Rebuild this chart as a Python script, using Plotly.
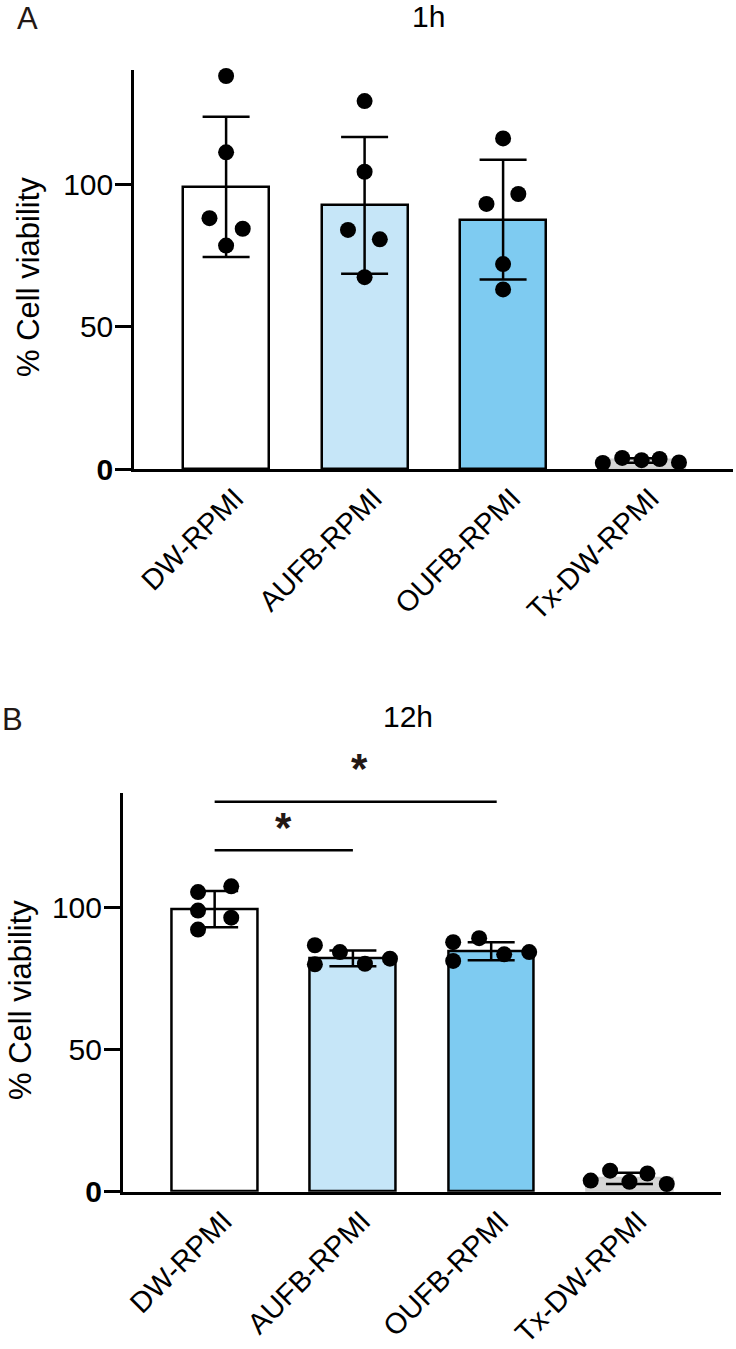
import plotly.graph_objects as go

# ---------------- data ----------------
categories = ["DW-RPMI", "AUFB-RPMI", "OUFB-RPMI", "Tx-DW-RPMI"]
bar_colors = ["#ffffff", "#c6e6f8", "#7ecbf1", "#d6d6d6"]
edge_colors = ["#000000", "#000000", "#000000", "#cfcfcf"]

mean_1h = [99.0, 92.5, 87.5, 3.0]
sd_1h = [24.6, 24.0, 21.0, 0.8]
points_1h = [
    [137.9, 111.1, 88.0, 84.3, 78.4],
    [129.1, 104.3, 83.9, 80.6, 67.3],
    [116.0, 96.5, 93.0, 71.9, 63.0],
    [2.1, 3.9, 3.1, 3.5, 2.3],
]
jitter_1h = [
    [0, 0, -0.12, 0.12, 0],
    [0, 0, -0.12, 0.11, 0],
    [0, 0.11, -0.12, 0, 0],
    [-0.28, -0.14, 0, 0.13, 0.27],
]

mean_12h = [99.3, 82.0, 84.5, 4.7]
sd_12h = [6.4, 2.8, 3.2, 2.0]
points_12h = [
    [105.3, 98.8, 92.1, 107.3, 96.3],
    [86.6, 79.9, 84.2, 80.1, 81.9],
    [87.7, 81.1, 89.1, 83.4, 84.2],
    [3.9, 7.4, 3.5, 6.4, 2.7],
]
jitter_12h = [
    [-0.12, -0.12, -0.12, 0.12, 0.12],
    [-0.275, -0.275, -0.094, 0.087, 0.268],
    [-0.275, -0.275, -0.087, 0.094, 0.275],
    [-0.28, -0.14, 0, 0.13, 0.27],
]

# significance comparisons (12h)
sig_from = [0, 0]
sig_to = [1, 2]
sig_level = [120, 137]
sig_text = ["*", "*"]

panel_titles = ["1h", "12h"]
panel_letters = ["A", "B"]
y_title = "% Cell viability"
y_ticks = [0, 50, 100]
y_ticktext = ["<b>0</b>", "50", "100"]

# ---------------- figure ----------------
W, H = 736, 1349
FONT = "Arial, Liberation Sans, Helvetica, sans-serif"
TXT = "#231815"
YMAX = 140

fig = go.Figure()

panels = [
    dict(mean=mean_1h, sd=sd_1h, pts=points_1h, jit=jitter_1h, xa="x", ya="y",
         px=(134, 733), py=(70, 469)),
    dict(mean=mean_12h, sd=sd_12h, pts=points_12h, jit=jitter_12h, xa="x2", ya="y2",
         px=(122.7, 720.7), py=(793.3, 1191.7)),
]

idx = list(range(len(categories)))
for p in panels:
    fig.add_trace(go.Bar(
        x=idx, y=p["mean"], width=0.62,
        marker=dict(color=bar_colors, line=dict(color=edge_colors, width=2.5)),
        error_y=dict(type="data", array=p["sd"], visible=True, color="black",
                     thickness=2.5, width=23.5),
        xaxis=p["xa"], yaxis=p["ya"], showlegend=False, hoverinfo="skip",
    ))
    xs, ys = [], []
    for i in idx:
        for v, j in zip(p["pts"][i], p["jit"][i]):
            xs.append(i + j)
            ys.append(v)
    fig.add_trace(go.Scatter(
        x=xs, y=ys, mode="markers",
        marker=dict(color="black", size=16, line=dict(width=0)),
        xaxis=p["xa"], yaxis=p["ya"], showlegend=False, cliponaxis=False,
    ))

xcommon = dict(range=[-0.665, 3.66], tickmode="array", tickvals=idx, ticktext=categories,
               tickangle=-45, showline=True, linewidth=2.5, linecolor="black",
               ticks="", showgrid=False, zeroline=False, automargin=False,
               ticklabelshift=9, ticklabelstandoff=-2,
               tickfont=dict(family=FONT, size=29, color="black"))
ycommon = dict(range=[0, YMAX], tickmode="array", tickvals=y_ticks, ticktext=y_ticktext,
               ticks="outside", ticklen=16, tickwidth=2.5, tickcolor="black",
               showline=True, linewidth=2.5, linecolor="black", automargin=False,
               showgrid=False, zeroline=False, ticklabelstandoff=-4,
               tickfont=dict(family=FONT, size=30, color="black"))

p0, p1 = panels
fig.update_layout(
    width=W, height=H, autosize=False,
    margin=dict(l=0, r=0, t=0, b=0, autoexpand=False),
    paper_bgcolor="white", plot_bgcolor="white",
    bargap=0,
    xaxis=dict(domain=[p0["px"][0] / W, p0["px"][1] / W], anchor="y", **xcommon),
    yaxis=dict(domain=[1 - p0["py"][1] / H, 1 - p0["py"][0] / H], anchor="x", **ycommon),
    xaxis2=dict(domain=[p1["px"][0] / W, p1["px"][1] / W], anchor="y2", **xcommon),
    yaxis2=dict(domain=[1 - p1["py"][1] / H, 1 - p1["py"][0] / H], anchor="x2", **ycommon),
)

# significance lines and stars
star_nudge_px = [0, 7]
star_gap = [14, 18]
for a, b, lvl, t, nx, g in zip(sig_from, sig_to, sig_level, sig_text, star_nudge_px, star_gap):
    fig.add_shape(type="line", xref="x2", yref="y2", x0=a, x1=b + (0.04 if b == 2 else 0),
                  y0=lvl, y1=lvl, line=dict(color="black", width=2.5))
    fig.add_annotation(xref="x2", yref="y2 domain", x=(a + b) / 2, y=(lvl + g) / YMAX,
                       text="<b>" + t + "</b>",
                       showarrow=False, xshift=nx, yshift=8,
                       font=dict(family=FONT, size=42, color=TXT))

# panel titles, letters, y titles (top of text box, in px from top)
title_pos = [(429, -2), (408, 698)]
letter_pos = [(27.5, -1), (13, 700)]
ytitle_pos = [(28, 277), (20, 1000)]
for k in range(2):
    fig.add_annotation(xref="paper", yref="paper", x=title_pos[k][0] / W, y=1 - title_pos[k][1] / H,
                       text=panel_titles[k], showarrow=False, xanchor="center", yanchor="top",
                       font=dict(family=FONT, size=30, color="black"))
    fig.add_annotation(xref="paper", yref="paper", x=letter_pos[k][0] / W, y=1 - letter_pos[k][1] / H,
                       text=panel_letters[k], showarrow=False, xanchor="center", yanchor="top",
                       font=dict(family=FONT, size=31, color=TXT))
    fig.add_annotation(xref="paper", yref="paper", x=ytitle_pos[k][0] / W, y=1 - ytitle_pos[k][1] / H,
                       text=y_title, showarrow=False, textangle=-90, xanchor="center", yanchor="middle",
                       font=dict(family=FONT, size=31, color="black"))

fig.write_html("out.html")
